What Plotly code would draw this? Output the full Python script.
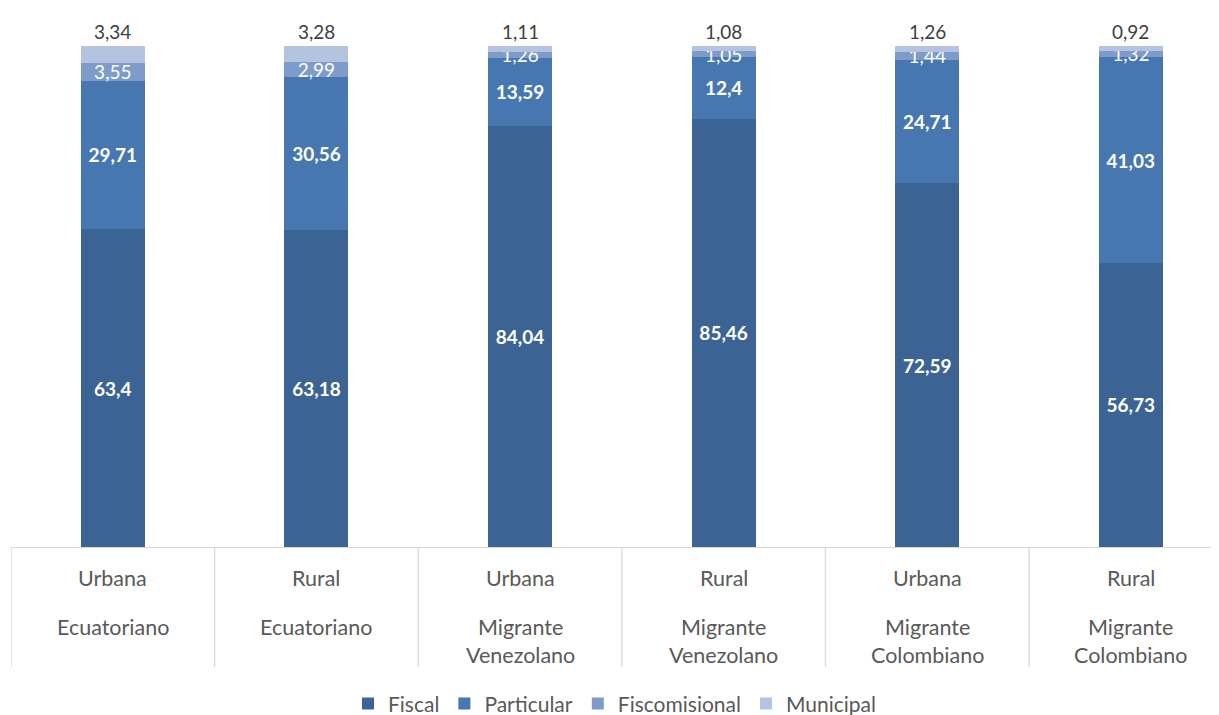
import plotly.graph_objects as go

# Data
zona = ["Urbana", "Rural", "Urbana", "Rural", "Urbana", "Rural"]
grupo = ["Ecuatoriano", "Ecuatoriano", "Migrante<br>Venezolano", "Migrante<br>Venezolano",
         "Migrante<br>Colombiano", "Migrante<br>Colombiano"]
fiscal = [63.4, 63.18, 84.04, 85.46, 72.59, 56.73]
particular = [29.71, 30.56, 13.59, 12.4, 24.71, 41.03]
fiscomisional = [3.55, 2.99, 1.26, 1.05, 1.44, 1.32]
municipal = [3.34, 3.28, 1.11, 1.08, 1.26, 0.92]

FONT = "Lato"
x = list(range(len(zona)))


def fmt(v):
    return str(v).replace(".", ",")


fig = go.Figure()

series = [
    ("Fiscal", fiscal, "#3b6495", True),
    ("Particular", particular, "#4777b0", True),
    ("Fiscomisional", fiscomisional, "#7e9bc9", False),
    ("Municipal", municipal, "#b4c3df", None),
]

for name, vals, color, bold in series:
    if bold is None:
        text = None
    else:
        text = [f"<b>{fmt(v)}</b>" if bold else fmt(v) for v in vals]
    fig.add_trace(go.Bar(
        x=x, y=vals, name=name,
        marker=dict(color=color, line=dict(width=0)),
        width=0.315,
        text=text,
        textposition="inside" if text else "none",
        insidetextanchor="middle",
        textfont=dict(color="white", size=19, family=FONT),
        constraintext="none",
        hoverinfo="skip",
    ))

# Municipal labels above the bars
for i, v in enumerate(municipal):
    total = fiscal[i] + particular[i] + fiscomisional[i] + v
    fig.add_annotation(
        x=i, y=total, xref="x", yref="y", text=fmt(v), showarrow=False,
        yanchor="bottom", yshift=1,
        font=dict(color="#404040", size=19, family=FONT),
    )

# Category labels (two levels)
for i in x:
    fig.add_annotation(
        x=i, y=-0.061, xref="x", yref="paper", text=zona[i], showarrow=False,
        yanchor="middle", font=dict(color="#595959", size=21.5, family=FONT),
    )
    fig.add_annotation(
        x=i, y=-0.127, xref="x", yref="paper", text=grupo[i], showarrow=False,
        yanchor="top", font=dict(color="#595959", size=21.5, family=FONT),
    )

# Category dividers (the right edge of the last one falls outside the view)
for i in x:
    fig.add_shape(type="line", xref="x", yref="paper", x0=i - 0.5, x1=i - 0.5, y0=0, y1=-0.235,
                  line=dict(color="#d9d9d9", width=1.3))

fig.update_layout(
    barmode="stack",
    width=1211, height=707,
    margin=dict(l=3, r=0, t=28, b=168, autoexpand=False),
    plot_bgcolor="white", paper_bgcolor="white",
    font=dict(family=FONT, color="#595959"),
    showlegend=True,
    legend=dict(
        orientation="h", x=0.5, xanchor="center", y=-0.307, yanchor="middle",
        font=dict(size=21, family=FONT, color="#595959"),
        traceorder="normal",
    ),
    xaxis=dict(
        range=[-0.5, 5.433], tickvals=x, showticklabels=False,
        showline=True, linecolor="#d9d9d9", linewidth=1.3, showgrid=False, zeroline=False,
    ),
    yaxis=dict(range=[0, 102], visible=False, showgrid=False, zeroline=False),
)

fig.write_html("out.html")
